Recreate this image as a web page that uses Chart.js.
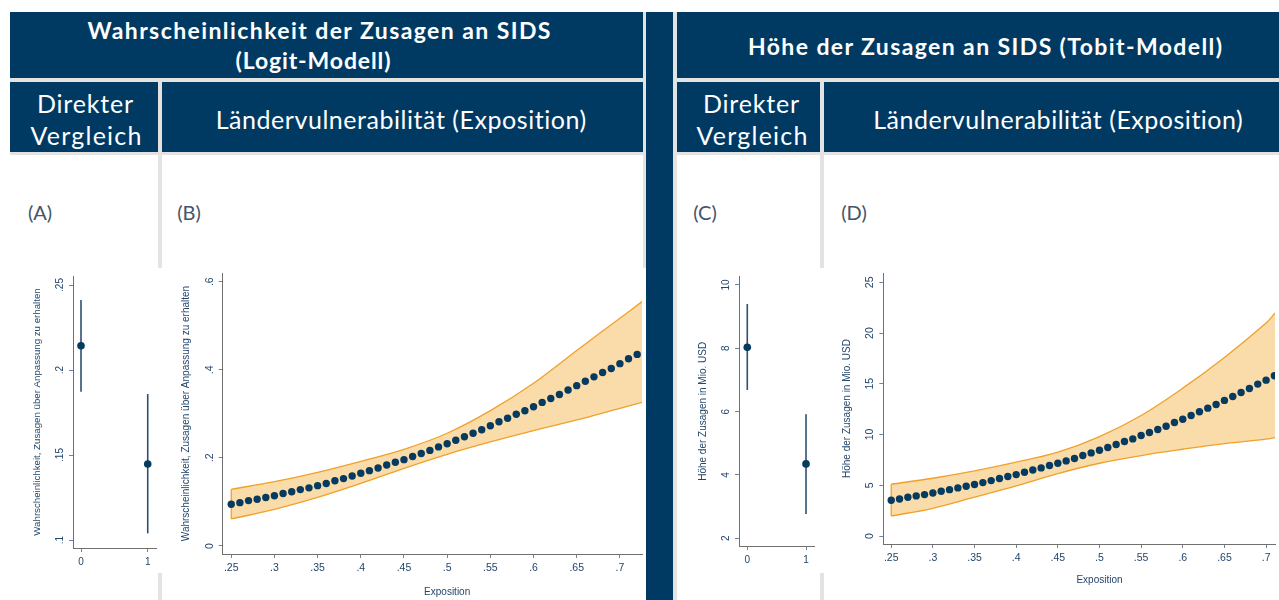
<!DOCTYPE html>
<html><head><meta charset="utf-8">
<script src="https://cdn.jsdelivr.net/npm/chart.js@4.4.1/dist/chart.umd.min.js"></script>
<style>
html,body{margin:0;padding:0;background:#fff;}
#root{position:relative;width:1279px;height:600px;overflow:hidden;background:#fff;font-family:Lato,"Open Sans",sans-serif;}
.navy{position:absolute;background:#003a63;}
.grey{position:absolute;background:#e3e3e3;}
.t{position:absolute;white-space:nowrap;transform:translate(-50%,-50%);line-height:1;color:#fff;}
.h1{font-weight:700;font-size:23px;}
.h2{font-weight:400;font-size:25px;}
.lab{position:absolute;white-space:nowrap;transform:translate(-50%,-50%);line-height:1;font-size:20px;color:#44546a;}
canvas{position:absolute;background:#fff;}
</style></head>
<body>
<div id="root">
  <div class="grey" style="left:10px;top:12px;width:1269px;height:143px"></div>
  <div class="grey" style="left:158px;top:152px;width:4px;height:448px"></div>
  <div class="grey" style="left:643px;top:152px;width:3px;height:448px"></div>
  <div class="grey" style="left:673px;top:152px;width:4px;height:448px"></div>
  <div class="grey" style="left:820px;top:152px;width:4px;height:448px"></div>
  <div class="navy" style="left:10px;top:12px;width:633px;height:66px"></div>
  <div class="navy" style="left:646px;top:12px;width:27px;height:588px"></div>
  <div class="navy" style="left:677px;top:12px;width:602px;height:66px"></div>
  <div class="navy" style="left:10px;top:82px;width:148px;height:70px"></div>
  <div class="navy" style="left:162px;top:82px;width:481px;height:70px"></div>
  <div class="navy" style="left:677px;top:82px;width:143px;height:70px"></div>
  <div class="navy" style="left:824px;top:82px;width:455px;height:70px"></div>

  <div class="t h1" data-w="463" style="left:319px;top:30px">Wahrscheinlichkeit der Zusagen an SIDS</div>
  <div class="t h1" data-w="155" style="left:313px;top:60px">(Logit-Modell)</div>
  <div class="t h1" data-w="474" style="left:985px;top:46px">Höhe der Zusagen an SIDS (Tobit-Modell)</div>

  <div class="t h2" data-w="96" style="left:85px;top:103px">Direkter</div>
  <div class="t h2" data-w="111" style="left:86px;top:135px">Vergleich</div>
  <div class="t h2" data-w="371" style="left:401px;top:119px">Ländervulnerabilität (Exposition)</div>
  <div class="t h2" data-w="96" style="left:751px;top:103px">Direkter</div>
  <div class="t h2" data-w="111" style="left:752px;top:135px">Vergleich</div>
  <div class="t h2" data-w="370" style="left:1058px;top:119px">Ländervulnerabilität (Exposition)</div>

  <div class="lab" style="left:40px;top:212px">(A)</div>
  <div class="lab" style="left:189px;top:212px">(B)</div>
  <div class="lab" style="left:705px;top:212px">(C)</div>
  <div class="lab" style="left:854px;top:212px">(D)</div>

  <canvas id="cA" width="152" height="305" style="left:10px;top:268px"></canvas>
  <canvas id="cB" width="484" height="332" style="left:162px;top:268px"></canvas>
  <canvas id="cC" width="147" height="305" style="left:677px;top:268px"></canvas>
  <canvas id="cD" width="455" height="332" style="left:824px;top:268px"></canvas>
</div>
<script>
// ---------------- DATA ----------------
// (A) Logit model, direct comparison
const groups = [0, 1];
const groupTickLabels = ['0', '1'];
const probEst  = [0.2143, 0.1447];
const probLow  = [0.1872, 0.1039];
const probHigh = [0.2412, 0.1859];
const probYTicks = [0.1, 0.15, 0.2, 0.25];
const probYTickLabels = ['.1', '.15', '.2', '.25'];

// (B) Logit model over exposure
const expoB = [0.25,0.26,0.27,0.28,0.29,0.30,0.31,0.32,0.33,0.34,0.35,0.36,0.37,0.38,0.39,0.40,0.41,0.42,0.43,0.44,0.45,0.46,0.47,0.48,0.49,0.50,0.51,0.52,0.53,0.54,0.55,0.56,0.57,0.58,0.59,0.60,0.61,0.62,0.63,0.64,0.65,0.66,0.67,0.68,0.69,0.70,0.71,0.72];
const probCurve = [0.0946,0.0984,0.103,0.106,0.110,0.114,0.119,0.123,0.128,0.132,0.137,0.142,0.148,0.153,0.159,0.165,0.171,0.177,0.184,0.190,0.196,0.203,0.210,0.217,0.225,0.232,0.240,0.248,0.256,0.264,0.273,0.282,0.290,0.299,0.307,0.316,0.326,0.335,0.344,0.354,0.364,0.374,0.384,0.394,0.403,0.414,0.425,0.435];
const probBandX     = [0.25,0.30,0.35,0.40,0.45,0.50,0.55,0.60,0.65,0.70,0.7256];
const probBandUpper = [0.1287,0.1461,0.1673,0.1923,0.2195,0.2559,0.3073,0.3694,0.4440,0.5170,0.5549];
const probBandLower = [0.0613,0.0833,0.1105,0.1423,0.1764,0.2082,0.2362,0.2619,0.2861,0.3126,0.3263];
const probCurveYTicks = [0, 0.2, 0.4, 0.6];
const probCurveYTickLabels = ['0', '.2', '.4', '.6'];

// (C) Tobit model, direct comparison
const amtEst  = [8.03, 4.35];
const amtLow  = [6.68, 2.77];
const amtHigh = [9.40, 5.92];
const amtYTicks = [2, 4, 6, 8, 10];
const amtYTickLabels = ['2', '4', '6', '8', '10'];

// (D) Tobit model over exposure
const expoD = [0.25,0.26,0.27,0.28,0.29,0.30,0.31,0.32,0.33,0.34,0.35,0.36,0.37,0.38,0.39,0.40,0.41,0.42,0.43,0.44,0.45,0.46,0.47,0.48,0.49,0.50,0.51,0.52,0.53,0.54,0.55,0.56,0.57,0.58,0.59,0.60,0.61,0.62,0.63,0.64,0.65,0.66,0.67,0.68,0.69,0.70,0.71];
const amtCurve = [3.52,3.65,3.82,3.95,4.08,4.24,4.41,4.57,4.74,4.90,5.07,5.26,5.46,5.66,5.86,6.05,6.28,6.51,6.71,6.94,7.17,7.40,7.63,7.93,8.19,8.45,8.72,9.01,9.31,9.57,9.90,10.20,10.49,10.82,11.18,11.51,11.88,12.24,12.60,12.96,13.36,13.75,14.14,14.54,14.97,15.36,15.79];
const amtBandX     = [0.25,0.30,0.35,0.40,0.45,0.50,0.55,0.60,0.65,0.70,0.7107];
const amtBandUpper = [5.10,5.69,6.41,7.27,8.26,9.80,11.88,14.57,17.60,20.99,21.97];
const amtBandLower = [1.97,2.73,3.82,4.93,6.15,7.17,7.93,8.55,9.11,9.54,9.70];
const amtCurveYTicks = [0, 5, 10, 15, 20, 25];
const amtCurveYTickLabels = ['0', '5', '10', '15', '20', '25'];

const expoTicks = [0.25,0.30,0.35,0.40,0.45,0.50,0.55,0.60,0.65,0.70];
const expoTickLabels = ['.25','.3','.35','.4','.45','.5','.55','.6','.65','.7'];

const yTitleProb = 'Wahrscheinlichkeit, Zusagen über Anpassung zu erhalten';
const yTitleAmt = 'Höhe der Zusagen in Mio. USD';
const xTitleExpo = 'Exposition';

// ---------------- STYLE ----------------
const DOT = '#063a5f';
const TXT = '#23466b';
const AXIS = '#707070';
const TICK = '#6a84a0';
const BAND_LINE = '#f0a12a';
const BAND_FILL = '#fadcab';
const CI_LINE = '#2d5072';
const FONT = '"Liberation Sans", Arial, sans-serif';

function textPlugin(p) {
  return {
    id: 'stataText',
    afterDraw(chart) {
      const {ctx, chartArea, scales: {x, y}} = chart;
      ctx.save();
      ctx.fillStyle = TXT;
      ctx.textAlign = 'center';
      ctx.textBaseline = 'middle';
      ctx.font = p.tickSize + 'px ' + FONT;
      p.yTicks.forEach((v, i) => {
        const py = y.getPixelForValue(v);
        ctx.save();
        ctx.translate(chartArea.left - 13, py);
        ctx.rotate(-Math.PI / 2);
        ctx.fillText(p.yLabels[i], 0, 0);
        ctx.restore();
      });
      ctx.font = p.titleSize + 'px ' + FONT;
      ctx.save();
      ctx.translate(chartArea.left - 36, (chartArea.top + chartArea.bottom) / 2);
      ctx.rotate(-Math.PI / 2);
      ctx.fillText(p.yTitle, 0, 0);
      ctx.restore();
      if (p.xTitle) {
        ctx.fillText(p.xTitle, x.getPixelForValue(p.xTitleAt), chartArea.bottom + p.xTitleDy);
      }
      ctx.restore();
    }
  };
}

function buildChart(id, p) {
  const gridOpts = {display: true, drawOnChartArea: false, drawTicks: true, tickLength: 4, tickColor: TICK, tickWidth: 1};
  const borderOpts = {display: true, color: AXIS, width: 1};
  return new Chart(document.getElementById(id), {
    type: 'line',
    data: {datasets: p.datasets},
    options: {
      responsive: false, animation: false, events: [],
      layout: {padding: {left: 0, top: p.padTop, right: p.padRight, bottom: 0}},
      plugins: {legend: {display: false}, tooltip: {enabled: false}, filler: {drawTime: 'beforeDatasetsDraw'}},
      scales: {
        x: {
          type: 'linear', min: p.xMin, max: p.xMax, offset: false,
          afterBuildTicks: s => { s.ticks = p.xTicks.map(v => ({value: v})); },
          afterFit: s => { s.height = p.xHeight; },
          ticks: {autoSkip: false, maxRotation: 0, minRotation: 0, padding: 4, color: TXT,
                  font: {family: FONT, size: p.tickSize}, callback: (v, i) => p.xLabels[i]},
          grid: gridOpts, border: borderOpts
        },
        y: {
          type: 'linear', min: p.yMin, max: p.yMax,
          afterBuildTicks: s => { s.ticks = p.yTicks.map(v => ({value: v})); },
          afterFit: s => { s.width = p.yWidth; },
          ticks: {display: false},
          grid: gridOpts, border: borderOpts
        }
      }
    },
    plugins: [textPlugin(p)]
  });
}

function ciDatasets(est, low, high) {
  const sets = groups.map((g, i) => ({
    data: [{x: g, y: low[i]}, {x: g, y: high[i]}],
    borderColor: CI_LINE, borderWidth: 1.6, pointRadius: 0, fill: false, order: 1
  }));
  sets.push({
    data: groups.map((g, i) => ({x: g, y: est[i]})),
    showLine: false, pointRadius: 3.8, pointBackgroundColor: DOT, pointBorderWidth: 0, order: 0
  });
  return sets;
}

function curveDatasets(xs, curve, bx, up, lo) {
  return [
    {data: xs.map((x, i) => ({x, y: curve[i]})), showLine: false, pointRadius: 3.7,
     pointBackgroundColor: DOT, pointBorderWidth: 0, order: 0},
    {data: bx.map((x, i) => ({x, y: up[i]})), borderColor: BAND_LINE, borderWidth: 1.3, pointRadius: 0,
     tension: 0.35, fill: '+1', backgroundColor: BAND_FILL, order: 1},
    {data: bx.map((x, i) => ({x, y: lo[i]})), borderColor: BAND_LINE, borderWidth: 1.3, pointRadius: 0,
     tension: 0.35, fill: false, order: 2},
    {data: [{x: bx[0], y: lo[0]}, {x: bx[0], y: up[0]}], borderColor: BAND_LINE, borderWidth: 1.3,
     pointRadius: 0, fill: false, order: 1}
  ];
}

buildChart('cA', {
  padTop: 8, padRight: 6, yWidth: 63, xHeight: 25,
  xMin: -0.12, xMax: 1.124, yMin: 0.0953, yMax: 0.2553,
  xTicks: groups, xLabels: groupTickLabels, yTicks: probYTicks, yLabels: probYTickLabels,
  tickSize: 10, titleSize: 9.7, yTitle: yTitleProb,
  datasets: ciDatasets(probEst, probLow, probHigh)
});
buildChart('cB', {
  padTop: 5, padRight: 0, yWidth: 60.7, xHeight: 46,
  xMin: 0.2401, xMax: 0.7256, yMin: -0.0182, yMax: 0.6198,
  xTicks: expoTicks, xLabels: expoTickLabels, yTicks: probCurveYTicks, yLabels: probCurveYTickLabels,
  tickSize: 10.5, titleSize: 10, yTitle: yTitleProb, xTitle: xTitleExpo, xTitleAt: 0.5, xTitleDy: 38,
  datasets: curveDatasets(expoB, probCurve, probBandX, probBandUpper, probBandLower)
});
buildChart('cC', {
  padTop: 8.7, padRight: 10, yWidth: 62, xHeight: 27,
  xMin: -0.141, xMax: 1.136, yMin: 1.757, yMax: 10.262,
  xTicks: groups, xLabels: groupTickLabels, yTicks: amtYTicks, yLabels: amtYTickLabels,
  tickSize: 10, titleSize: 10, yTitle: yTitleAmt,
  datasets: ciDatasets(amtEst, amtLow, amtHigh)
});
buildChart('cD', {
  padTop: 5, padRight: 0, yWidth: 59.3, xHeight: 56,
  xMin: 0.2405, xMax: 0.7107, yMin: -0.788, yMax: 25.916,
  xTicks: expoTicks, xLabels: expoTickLabels, yTicks: amtCurveYTicks, yLabels: amtCurveYTickLabels,
  tickSize: 10.5, titleSize: 10, yTitle: yTitleAmt, xTitle: xTitleExpo, xTitleAt: 0.5, xTitleDy: 36,
  datasets: curveDatasets(expoD, amtCurve, amtBandX, amtBandUpper, amtBandLower)
});

// fit header text widths by letter spacing
function fitTexts() {
  document.querySelectorAll('[data-w]').forEach(el => {
    el.style.letterSpacing = '0px';
    el.style.marginLeft = '0px';
    const target = +el.dataset.w;
    const n = el.textContent.length;
    const w = el.getBoundingClientRect().width;
    const ls = (target - w) / Math.max(1, n - 1);
    el.style.letterSpacing = ls + 'px';
    el.style.marginLeft = (ls / 2) + 'px';
  });
}
fitTexts();
if (document.fonts && document.fonts.ready) document.fonts.ready.then(fitTexts);
</script>
</body></html>
